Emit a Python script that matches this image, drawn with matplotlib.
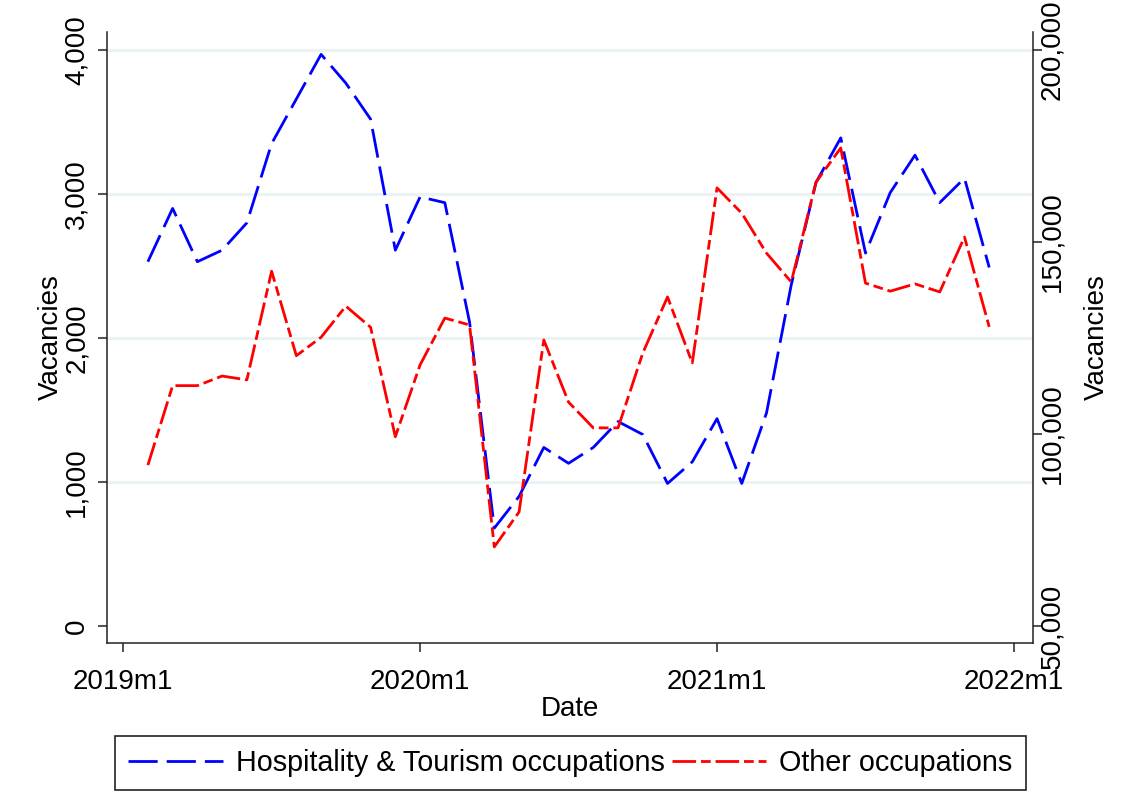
import matplotlib
matplotlib.use("Agg")
import matplotlib.pyplot as plt
import pandas as pd
from matplotlib.ticker import StrMethodFormatter

plt.rcParams['font.family'] = ['Liberation Sans', 'DejaVu Sans']
plt.rcParams['lines.scale_dashes'] = False

# monthly vacancies, 2019m2 .. 2021m12
months = pd.period_range('2019-02', '2021-12', freq='M')
hosp = [2530, 2900, 2530, 2610, 2800, 3350, 3660, 3970, 3770, 3520, 2610,
        2980, 2940, 2110, 680, 900, 1240, 1130, 1240, 1420, 1330, 990, 1140,
        1440, 990, 1480, 2370, 3080, 3390, 2590, 3010, 3270, 2940, 3110, 2490]
other = [91900, 112600, 112600, 115100, 114100, 142400, 120400, 125200, 133300,
         127800, 99300, 118000, 130200, 128400, 70600, 79700, 124500, 108300,
         101600, 101600, 121100, 135700, 118500, 164100, 157500, 147100, 139600,
         165600, 174500, 139300, 137200, 139100, 137000, 151300, 127900]

left_ticks = [0, 1000, 2000, 3000, 4000]
right_ticks = [50000, 100000, 150000, 200000]
x_ticks = ['2019m1', '2020m1', '2021m1', '2022m1']

base = pd.Period('2019-01', freq='M')
x = [(m - base).n for m in months]
xt = [(pd.Period(s.replace('m', '-'), freq='M') - base).n for s in x_ticks]

fig = plt.figure(figsize=(11.28, 7.91), dpi=100)
ax = fig.add_axes([0.0949, 0.1871, 0.8209, 0.7724])
ax2 = ax.twinx()

fs = 20
blue, = ax.plot(x, hosp, color='#0000ff', lw=2.0, dashes=(21, 6.5),
                label='Hospitality & Tourism occupations')
red, = ax2.plot(x, other, color='#ff0000', lw=2.0, dashes=(17, 3.5, 7, 3.5),
                label='Other occupations')

for t in left_ticks[1:]:
    ax.axhline(t, color='#eaf2f3', lw=2.0, zorder=0)

ax.set_xlim(-0.65, 36.77)
ax.set_ylim(-118, 4125)
ax2.set_ylim(45573, 204688)

ax.set_xticks(xt)
ax.set_xticklabels(x_ticks)
ax.set_yticks(left_ticks)
ax2.set_yticks(right_ticks)
ax.yaxis.set_major_formatter(StrMethodFormatter('{x:,.0f}'))
ax2.yaxis.set_major_formatter(StrMethodFormatter('{x:,.0f}'))

for a in (ax, ax2):
    a.spines['top'].set_visible(False)
    for s in a.spines.values():
        s.set_linewidth(1.1)
        s.set_color('#222222')
    a.tick_params(length=6.5, width=1.1, color='#222222', labelsize=fs)
ax.spines['right'].set_visible(False)
ax2.spines['left'].set_visible(False)
ax2.spines['bottom'].set_visible(False)

ax.tick_params(axis='y', labelrotation=90, pad=6)
ax2.tick_params(axis='y', labelrotation=90, pad=-2)
for lab in ax.get_yticklabels() + ax2.get_yticklabels():
    lab.set_va('center')
ax.tick_params(axis='x', pad=12)

ax.set_xlabel('Date', fontsize=fs, labelpad=1)
ax.set_ylabel('Vacancies', fontsize=fs)
ax2.set_ylabel('Vacancies', fontsize=fs)
ax.yaxis.set_label_coords(-0.047, 0.5)
ax2.yaxis.set_label_coords(1.055, 0.5)
ax2.yaxis.label.set_rotation(90)

leg = fig.legend(handles=[blue, red], loc='center', ncol=2,
                 bbox_to_anchor=(0.5055, 0.0354), fontsize=20.7,
                 handlelength=3.3, handletextpad=0.45, columnspacing=0.25,
                 borderpad=0.45, fancybox=False, framealpha=1)
leg.get_frame().set_edgecolor('#222222')
leg.get_frame().set_linewidth(1.2)

fig.savefig('out.png', dpi=100)
